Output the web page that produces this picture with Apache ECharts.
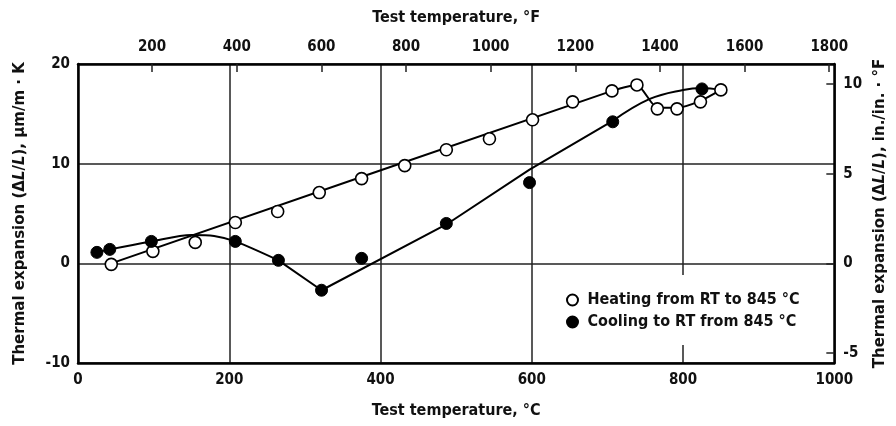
<!DOCTYPE html>
<html>
<head>
<meta charset="utf-8">
<script src="https://cdn.jsdelivr.net/npm/echarts@6/dist/echarts.min.js"></script>
<style>html,body{margin:0;padding:0;background:#fff;}#c{width:896px;height:426px;}</style>
</head>
<body>
<div id="c"></div>
<script>
// Heating from RT to 845 °C (open circles): temperature °C, expansion µm/m·K
const heatingT = [44, 99, 155, 208, 264, 319, 375, 432, 487, 544, 601, 654, 706, 739, 766, 792, 823, 850];
const heatingV = [-0.1, 1.2, 2.1, 4.1, 5.2, 7.1, 8.5, 9.8, 11.4, 12.5, 14.4, 16.2, 17.3, 17.9, 15.5, 15.5, 16.2, 17.4];
// Heating curve as drawn
const heatingLineT = [44, 706, 739, 766, 792, 823, 850];
const heatingLineV = [0.0, 17.3, 17.9, 15.6, 15.6, 16.3, 17.4];
// Cooling to RT from 845 °C (filled circles)
const coolingT = [25, 42, 97, 208, 265, 322, 375, 487, 597, 707, 825];
const coolingV = [1.1, 1.4, 2.2, 2.2, 0.3, -2.7, 0.5, 4.0, 8.1, 14.2, 17.5];
// Cooling curve as drawn: low-temperature hump, straight middle part, high-temperature bend
const coolingHumpT = [25, 42, 97, 150, 180, 208, 265];
const coolingHumpV = [1.1, 1.4, 2.2, 2.85, 2.75, 2.2, 0.3];
const coolingStraightT = [265, 322, 487, 597, 707];
const coolingStraightV = [0.3, -2.7, 3.9, 9.4, 14.3];
const coolingBendT = [707, 756, 800, 825, 850];
const coolingBendV = [14.3, 16.5, 17.4, 17.6, 17.4];
// Tick labels
const cTicks = [0, 200, 400, 600, 800, 1000];
const fTicks = [200, 400, 600, 800, 1000, 1200, 1400, 1600, 1800];
const leftTicks = [-10, 0, 10, 20];
const rightTicks = [-5, 0, 5, 10];

const pairs = (xs, ys) => xs.map((x, i) => [x, ys[i]]);
const FF = "'DejaVu Sans Condensed', 'Liberation Sans Narrow', 'Liberation Sans', sans-serif";
const tickFont = {fontFamily: FF, fontWeight: 'bold', fontSize: 15, color: '#111', formatter: v => String(v)};
const nameFont = {fontFamily: FF, fontWeight: 'bold', fontSize: 16, color: '#111'};
const yNameFont = {fontFamily: 'DejaVu Sans', fontWeight: 'bold', fontSize: 15, color: '#111',
  rich: {i: {fontFamily: 'DejaVu Sans', fontWeight: 'bold', fontStyle: 'italic', fontSize: 15, color: '#111'}}};
const axisLineStyle = {color: '#000', width: 2.5};
const gridLineStyle = {color: '#222', width: 1.5};
const lineStyle = {color: '#000', width: 2};

const chart = echarts.init(document.getElementById('c'));
chart.setOption({
  animation: false,
  backgroundColor: '#fff',
  grid: {left: 78, right: 56, top: 64, bottom: 63},
  legend: {
    orient: 'vertical', left: 558, top: 275,
    padding: [17, 10, 15, 8], itemGap: 6, itemWidth: 20, itemHeight: 11,
    backgroundColor: '#fff',
    textStyle: {fontFamily: FF, fontWeight: 'bold', fontSize: 16, color: '#111'},
    data: [{name: 'Heating from RT to 845 °C', icon: 'circle'}, {name: 'Cooling to RT from 845 °C', icon: 'circle'}]
  },
  xAxis: [
    {
      type: 'value', position: 'bottom', min: cTicks[0], max: cTicks[cTicks.length - 1], interval: 200,
      axisLine: {onZero: false, lineStyle: axisLineStyle}, axisTick: {show: false},
      splitLine: {show: true, lineStyle: gridLineStyle},
      axisLabel: Object.assign({margin: 10}, tickFont),
      name: 'Test temperature, °C', nameLocation: 'middle', nameGap: 40, nameTextStyle: nameFont
    },
    {
      type: 'value', position: 'top', min: 25, max: 1812,
      axisLine: {onZero: false, lineStyle: axisLineStyle},
      axisTick: {show: true, inside: true, length: 8, customValues: fTicks, lineStyle: {color: '#222', width: 1.5}},
      splitLine: {show: false},
      axisLabel: Object.assign({margin: 9, customValues: fTicks}, tickFont),
      name: 'Test temperature, °F', nameLocation: 'middle', nameGap: 38, nameTextStyle: nameFont
    }
  ],
  yAxis: [
    {
      type: 'value', position: 'left', min: leftTicks[0], max: leftTicks[leftTicks.length - 1], interval: 10,
      axisLine: {show: true, onZero: false, lineStyle: axisLineStyle}, axisTick: {show: false},
      splitLine: {show: true, lineStyle: gridLineStyle},
      axisLabel: Object.assign({margin: 8}, tickFont),
      name: 'Thermal expansion (Δ{i|L}/{i|L}), µm/m · K', nameLocation: 'middle', nameGap: 50, nameRotate: 90,
      nameTextStyle: yNameFont
    },
    {
      type: 'value', position: 'right', min: -10 / 1.8, max: 20 / 1.8,
      axisLine: {show: true, onZero: false, lineStyle: axisLineStyle},
      axisTick: {show: true, inside: true, length: 8, customValues: rightTicks, lineStyle: {color: '#222', width: 1.5}},
      splitLine: {show: false},
      axisLabel: Object.assign({margin: 9, customValues: rightTicks}, tickFont),
      name: 'Thermal expansion (Δ{i|L}/{i|L}), in./in. · °F', nameLocation: 'middle', nameGap: 36, nameRotate: 90,
      nameTextStyle: yNameFont
    }
  ],
  series: [
    {type: 'line', xAxisIndex: 0, yAxisIndex: 0, data: pairs(heatingLineT, heatingLineV), showSymbol: false, smooth: 0.2,
      lineStyle: lineStyle, silent: true, z: 2},
    {type: 'line', xAxisIndex: 0, yAxisIndex: 0, data: pairs(coolingHumpT, coolingHumpV), showSymbol: false, smooth: 0.3,
      lineStyle: lineStyle, silent: true, z: 2},
    {type: 'line', xAxisIndex: 0, yAxisIndex: 0, data: pairs(coolingStraightT, coolingStraightV), showSymbol: false, smooth: false,
      lineStyle: lineStyle, silent: true, z: 2},
    {type: 'line', xAxisIndex: 0, yAxisIndex: 0, data: pairs(coolingBendT, coolingBendV), showSymbol: false, smooth: 0.4,
      lineStyle: lineStyle, silent: true, z: 2},
    {name: 'Heating from RT to 845 °C', type: 'scatter', xAxisIndex: 0, yAxisIndex: 0, data: pairs(heatingT, heatingV),
      symbol: 'circle', symbolSize: 12, itemStyle: {color: '#fff', borderColor: '#000', borderWidth: 1.6, opacity: 1}, z: 3},
    {name: 'Cooling to RT from 845 °C', type: 'scatter', xAxisIndex: 0, yAxisIndex: 0, data: pairs(coolingT, coolingV),
      symbol: 'circle', symbolSize: 12, itemStyle: {color: '#000', borderColor: '#000', borderWidth: 1, opacity: 1}, z: 3}
  ]
});
</script>
</body>
</html>
